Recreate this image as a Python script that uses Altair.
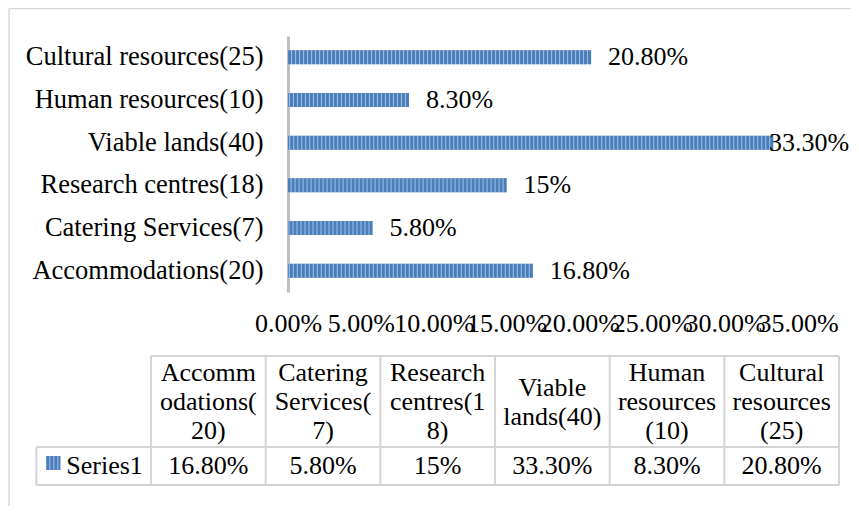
import altair as alt
import pandas as pd

# ---- data ----
categories = ["Accommodations(20)", "Catering Services(7)", "Research centres(18)",
              "Viable lands(40)", "Human resources(10)", "Cultural resources(25)"]
values = [0.168, 0.058, 0.15, 0.333, 0.083, 0.208]
value_labels = ["16.80%", "5.80%", "15%", "33.30%", "8.30%", "20.80%"]
table_headers = ["Accomm\nodations(\n20)", "Catering\nServices(\n7)", "Research\ncentres(1\n8)",
                 "Viable\nlands(40)", "Human\nresources\n(10)", "Cultural\nresources\n(25)"]
series_name = "Series1"
x_ticks = [0, 0.05, 0.10, 0.15, 0.20, 0.25, 0.30, 0.35]

# ---- styles ----
FONT = "Liberation Serif"
FS = 26
FS_CAT = 26.5
LH = 29
BLUE_DARK = "#4a7ebb"
BLUE_LIGHT = "#a4c0e4"
GRID = "#d4d4d4"
FRAME = "#d9d9d9"

df = pd.DataFrame({"category": categories, "value": values, "label": value_labels,
                   "header": table_headers, "col": list(range(len(categories)))})
edges = pd.DataFrame({"edge": list(range(len(categories) + 1))})
series_df = pd.DataFrame({"series": [series_name]})

y_order = categories[::-1]
x_scale = alt.Scale(domain=[0, 0.35], nice=False, zero=True)
y_scale = alt.Scale(paddingInner=0, paddingOuter=0)

x_axis = alt.Axis(values=x_ticks, format=".2%", labelOverlap=False, labelFlush=False,
                  domain=False, ticks=False, grid=False, labelFont=FONT, labelFontSize=FS,
                  labelColor="black", labelPadding=18, title=None)
y_axis = alt.Axis(title=None, ticks=False, domain=True, domainColor="#bfbfbf", domainWidth=3,
                  labelFont=FONT, labelFontSize=FS_CAT, labelColor="black", labelPadding=25,
                  labelLimit=400, grid=False)

base = alt.Chart(df)
bars = base.mark_bar(size=14, color=BLUE_LIGHT).encode(
    x=alt.X("value:Q", scale=x_scale, axis=x_axis),
    y=alt.Y("category:N", sort=y_order, scale=y_scale, axis=y_axis),
)
stripes = base.mark_rule(strokeWidth=14, strokeDash=[3, 1], color=BLUE_DARK, strokeCap="butt").encode(
    x=alt.X("value:Q", scale=x_scale, axis=None),
    x2=alt.datum(0),
    y=alt.Y("category:N", sort=y_order, scale=y_scale, axis=None),
)
# labels are pushed back inside the chart area when they would overflow (as the original does)
labels = base.transform_calculate(lx="min(datum.value, 0.3185)").mark_text(
    font=FONT, fontSize=FS, align="left", baseline="middle", dx=17, color="black"
).encode(
    x=alt.X("lx:Q", scale=x_scale, axis=None),
    y=alt.Y("category:N", sort=y_order, scale=y_scale, axis=None),
    text="label:N",
)

# ---- data table below the chart ----
tscale = alt.Scale(domain=[0, 6], range=[-137, 551], nice=False, zero=False)

vlines = alt.Chart(edges).mark_rule(color=GRID, strokeWidth=2).encode(
    x=alt.X("edge:Q", scale=tscale, axis=None), y=alt.value(320), y2=alt.value(449))
vline_leg = alt.Chart(series_df).mark_rule(color=GRID, strokeWidth=2).encode(
    x=alt.XDatum(-1, scale=tscale, axis=None), y=alt.value(411), y2=alt.value(449))
hline_top = alt.Chart(series_df).mark_rule(color=GRID, strokeWidth=2).encode(
    x=alt.XDatum(0, scale=tscale, axis=None), x2=alt.X2Datum(6), y=alt.value(320))
hline_mid = alt.Chart(series_df).mark_rule(color=GRID, strokeWidth=2).encode(
    x=alt.XDatum(-1, scale=tscale, axis=None), x2=alt.X2Datum(6), y=alt.value(411))
hline_bot = alt.Chart(series_df).mark_rule(color=GRID, strokeWidth=2).encode(
    x=alt.XDatum(-1, scale=tscale, axis=None), x2=alt.X2Datum(6), y=alt.value(449))

# header text is vertically centred in its cell: first line moves up by half the extra lines
headers = base.transform_calculate(
    cc="datum.col + 0.5",
    nl="length(split(datum.header, '\\n'))",
).mark_text(
    font=FONT, fontSize=FS, align="center", baseline="middle", lineBreak="\n",
    lineHeight=LH, color="black"
).encode(
    x=alt.X("cc:Q", scale=tscale, axis=None),
    y=alt.Y("nl:Q", scale=alt.Scale(domain=[1, 3], range=[366, 366 - LH], zero=False, nice=False), axis=None),
    text="header:N",
)
cells = base.transform_calculate(cc="datum.col + 0.5").mark_text(
    font=FONT, fontSize=FS, align="center", baseline="middle", color="black"
).encode(x=alt.X("cc:Q", scale=tscale, axis=None), y=alt.value(430), text="label:N")

key_bg = alt.Chart(series_df).mark_rule(strokeWidth=14, color=BLUE_LIGHT, strokeCap="butt",
                                        xOffset=10, x2Offset=24).encode(
    x=alt.XDatum(-1, scale=tscale, axis=None), x2=alt.X2Datum(-1), y=alt.value(427))
key_fg = alt.Chart(series_df).mark_rule(strokeWidth=14, color=BLUE_DARK, strokeCap="butt",
                                        strokeDash=[3, 1], xOffset=10, x2Offset=24).encode(
    x=alt.XDatum(-1, scale=tscale, axis=None), x2=alt.X2Datum(-1), y=alt.value(427))
series_txt = alt.Chart(series_df).mark_text(
    font=FONT, fontSize=FS, align="left", baseline="middle", dx=30, color="black"
).encode(x=alt.XDatum(-1, scale=tscale, axis=None), y=alt.value(430), text="series:N")

# ---- outer chart frame (left and top edges visible in the reference) ----
frame_df = pd.DataFrame({"f": [0]})
frame_left = alt.Chart(frame_df).mark_rule(color=FRAME, strokeWidth=1.5).encode(
    x=alt.value(-279), y=alt.value(-27.5), y2=alt.value(480))
frame_top = alt.Chart(frame_df).mark_rule(color=FRAME, strokeWidth=1.5).encode(
    x=alt.value(-279), x2=alt.value(580), y=alt.value(-27.5))

chart = alt.layer(
    bars, stripes, labels,
    vlines, vline_leg, hline_top, hline_mid, hline_bot,
    headers, cells, key_bg, key_fg, series_txt,
    frame_left, frame_top,
).resolve_scale(
    x="independent", y="independent"
).properties(
    width=510, height=256,
    autosize=alt.AutoSizeParams(type="none"),
    padding={"left": 280, "top": 28, "right": 53, "bottom": 214},
    background="white",
).configure_view(stroke=None)

chart.save("out.html", embed_options={"renderer": "svg", "actions": False})
